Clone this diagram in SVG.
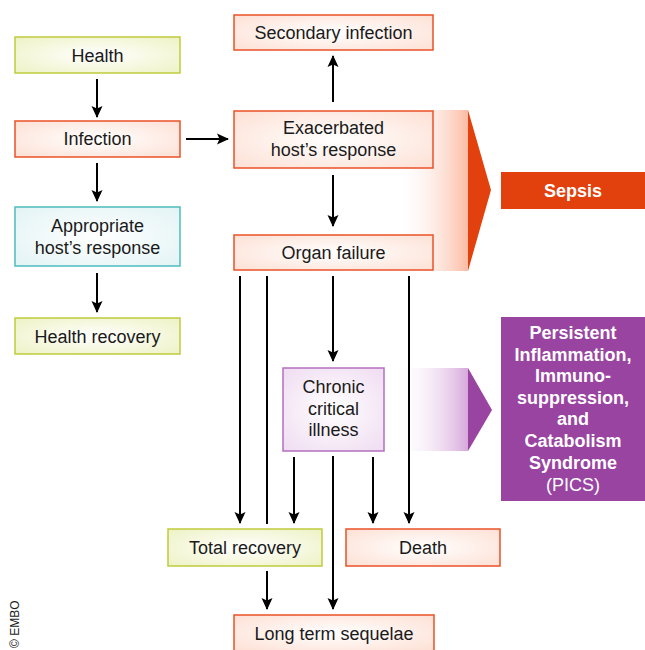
<svg xmlns="http://www.w3.org/2000/svg" width="645" height="650" viewBox="0 0 645 650">
<defs>
<radialGradient id="gGreen" cx="50%" cy="50%" r="70%"><stop offset="0" stop-color="#ffffff"/><stop offset="1" stop-color="#eef2c4"/></radialGradient>
<radialGradient id="gOrange" cx="50%" cy="50%" r="70%"><stop offset="0" stop-color="#ffffff"/><stop offset="1" stop-color="#fde0d4"/></radialGradient>
<radialGradient id="gCyan" cx="50%" cy="50%" r="70%"><stop offset="0" stop-color="#ffffff"/><stop offset="1" stop-color="#e2f3f4"/></radialGradient>
<radialGradient id="gPurple" cx="50%" cy="50%" r="70%"><stop offset="0" stop-color="#ffffff"/><stop offset="1" stop-color="#efdcf1"/></radialGradient>
<linearGradient id="bandO" x1="0" y1="0" x2="1" y2="0"><stop offset="0" stop-color="#ffffff" stop-opacity="0"/><stop offset="1" stop-color="#fbbba3"/></linearGradient>
<linearGradient id="bandP" x1="0" y1="0" x2="1" y2="0"><stop offset="0" stop-color="#ffffff" stop-opacity="0"/><stop offset="1" stop-color="#d8a8dc"/></linearGradient>
<marker id="ah" markerUnits="userSpaceOnUse" markerWidth="12" markerHeight="12" viewBox="0 0 12 12" refX="11" refY="6" orient="auto">
<path d="M0,0.5 L12,6 L0,11.5 L2.5,6 z" fill="#000"/>
</marker>
<style>
text{font-family:"Liberation Sans",Arial,sans-serif;font-size:18px;fill:#1a1a1a;text-anchor:middle}
.g{fill:url(#gGreen);stroke:#bfcb3c;stroke-width:1.5}
.o{fill:url(#gOrange);stroke:#ea5128;stroke-width:1.5}
.c{fill:url(#gCyan);stroke:#4cbcbf;stroke-width:1.5}
.p{fill:url(#gPurple);stroke:#b56ec0;stroke-width:1.5}
.w{fill:#fff;font-weight:bold}
.wn{fill:#fff}
#connectors line{stroke:#000;stroke-width:2;fill:none}
.a{marker-end:url(#ah)}
</style>
</defs>
<rect width="645" height="650" fill="#fff"/>

<g id="sepsis-band">
<rect x="395" y="110" width="73" height="161" fill="url(#bandO)"/>
<polygon points="468,110 491,190 468,271" fill="#e2400c"/>
</g>
<g id="pics-band">
<rect x="395" y="368" width="73" height="83" fill="url(#bandP)"/>
<polygon points="468,368 492,410 468,451" fill="#9a44a2"/>
</g>

<g id="connectors">
<line class="a" x1="97" y1="79" x2="97" y2="117"/>
<line class="a" x1="97" y1="163" x2="97" y2="201"/>
<line class="a" x1="97" y1="273" x2="97" y2="312"/>
<line class="a" x1="186" y1="139" x2="228" y2="139"/>
<line class="a" x1="333" y1="102" x2="333" y2="56"/>
<line class="a" x1="333" y1="175" x2="333" y2="226"/>
<line class="a" x1="240" y1="276" x2="240" y2="523"/>
<line x1="267" y1="276" x2="267" y2="524"/>
<line class="a" x1="333" y1="276" x2="333" y2="361"/>
<line class="a" x1="409" y1="276" x2="409" y2="523"/>
<line class="a" x1="294" y1="457" x2="294" y2="523"/>
<line class="a" x1="333" y1="456" x2="333" y2="609"/>
<line class="a" x1="373" y1="457" x2="373" y2="523"/>
<line class="a" x1="267" y1="571" x2="267" y2="609"/>
</g>

<g id="health"><rect class="g" x="15" y="37" width="165" height="36"/><text x="97.5" y="62">Health</text></g>
<g id="infection"><rect class="o" x="15" y="121" width="165" height="36"/><text x="97.5" y="145">Infection</text></g>
<g id="appropriate"><rect class="c" x="15" y="207" width="165" height="59"/><text x="97.5" y="232">Appropriate</text><text x="97.5" y="254">host’s response</text></g>
<g id="health-recovery"><rect class="g" x="15" y="318" width="165" height="36"/><text x="97.5" y="343">Health recovery</text></g>

<g id="secondary-infection"><rect class="o" x="234" y="15" width="199" height="35"/><text x="333.5" y="39">Secondary infection</text></g>
<g id="exacerbated"><rect class="o" x="234" y="111" width="199" height="57"/><text x="333.5" y="134">Exacerbated</text><text x="333.5" y="156">host’s response</text></g>
<g id="organ-failure"><rect class="o" x="234" y="235" width="199" height="35"/><text x="333.5" y="259">Organ failure</text></g>
<g id="chronic"><rect class="p" x="283" y="368" width="101" height="83"/><text x="333.5" y="393">Chronic</text><text x="333.5" y="415">critical</text><text x="333.5" y="436">illness</text></g>
<g id="total-recovery"><rect class="g" x="168" y="529" width="154" height="37"/><text x="245" y="554">Total recovery</text></g>
<g id="death"><rect class="o" x="346" y="529" width="154" height="37"/><text x="423" y="554">Death</text></g>
<g id="long-term"><rect class="o" x="234" y="615" width="200" height="36"/><text x="334" y="640">Long term sequelae</text></g>

<g id="sepsis"><rect x="501" y="172" width="144" height="37" fill="#e2400c"/><text class="w" x="573" y="197">Sepsis</text></g>
<g id="pics"><rect x="501" y="317" width="144" height="184" fill="#9a44a2"/>
<text class="w" x="573" y="339">Persistent</text>
<text class="w" x="573" y="361">Inflammation,</text>
<text class="w" x="573" y="382">Immuno-</text>
<text class="w" x="573" y="404">suppression,</text>
<text class="w" x="573" y="425">and</text>
<text class="w" x="573" y="447">Catabolism</text>
<text class="w" x="573" y="469">Syndrome</text>
<text class="wn" x="573" y="491">(PICS)</text>
</g>

<text x="18.5" y="648" transform="rotate(-90 18.5 648)" style="font-size:12px;text-anchor:start">© EMBO</text>
</svg>
